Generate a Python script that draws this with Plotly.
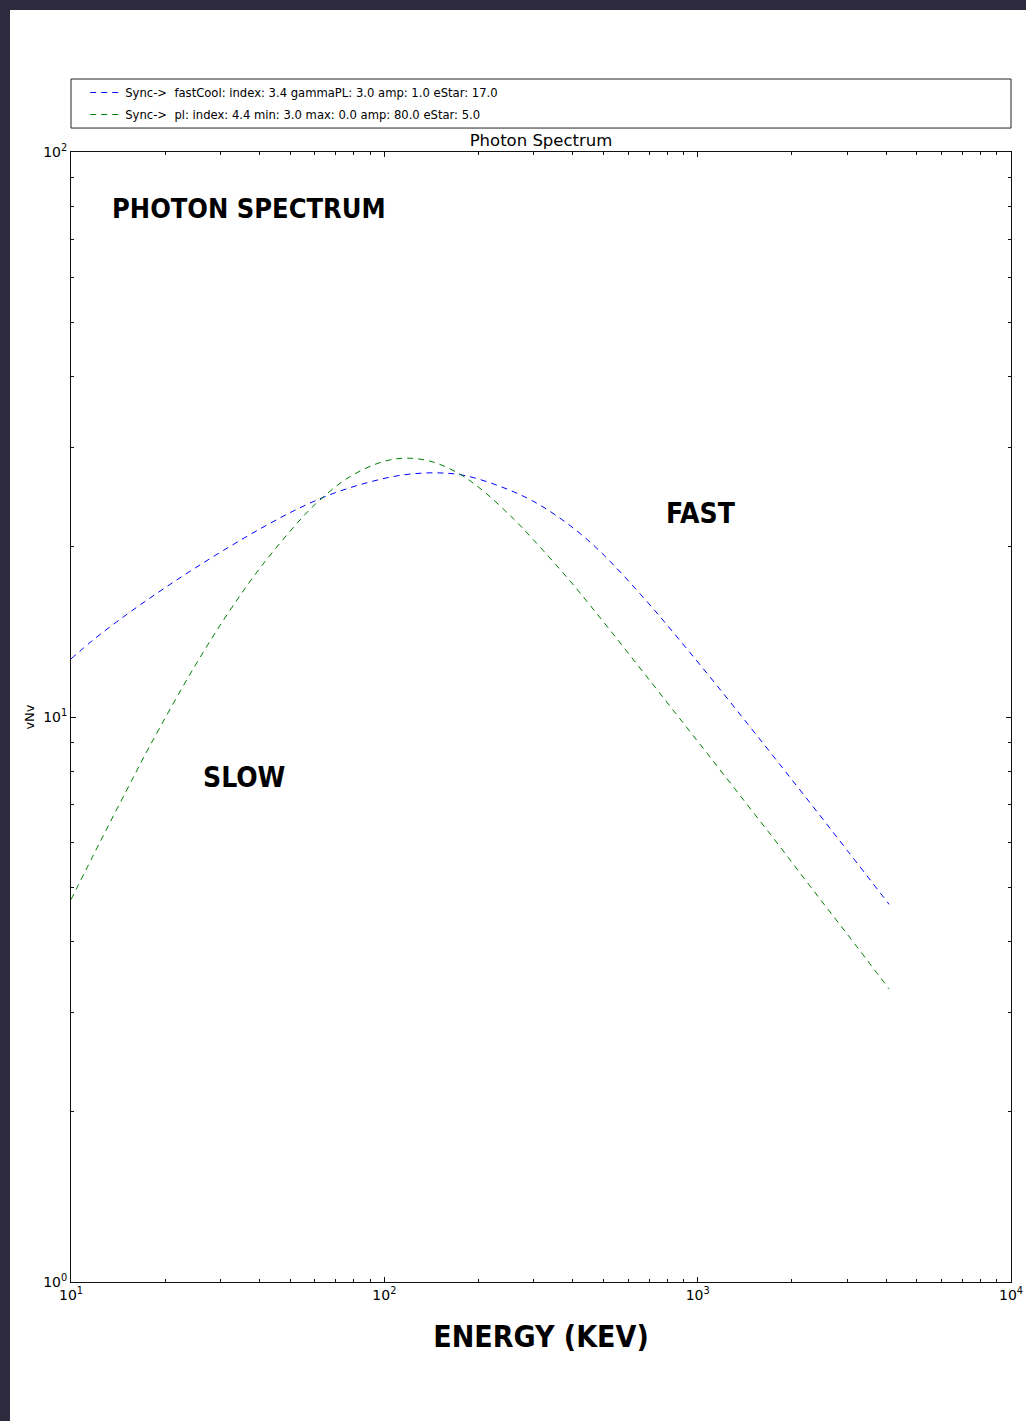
import plotly.graph_objects as go

# values: photon energy (keV) and vNv
fast_energy = [10.0, 11.75, 15.09, 19.24, 24.51, 32.17, 42.23, 53.8, 68.6, 88.1, 112.2,
               143.0, 178.3, 234.0, 298.3, 383.0, 488.2, 689.4, 878.8, 1120, 1438,
               1833, 2335, 2999, 4083]
fast_vnv = [12.67, 13.68, 15.20, 16.70, 18.25, 20.04, 21.87, 23.46, 24.86, 25.98, 26.77,
            27.05, 26.79, 25.60, 24.10, 22.02, 19.64, 16.00, 13.65, 11.59, 9.75,
            8.23, 6.94, 5.81, 4.66]

slow_energy = [10.0, 12.38, 15.09, 17.87, 24.51, 31.47, 40.11, 53.8, 62.3, 77.7, 99.05,
               118.1, 143.0, 174.4, 206.5, 257.5, 298.3, 383.0, 430.8, 537.0, 689.4,
               878.8, 1120, 1438, 1833, 2335, 2999, 4083]
slow_vnv = [4.75, 6.01, 7.44, 8.90, 12.15, 15.17, 18.35, 22.32, 24.22, 26.64, 28.31,
            28.72, 28.27, 26.90, 25.14, 22.47, 20.62, 17.66, 16.33, 14.03, 11.77,
            9.92, 8.36, 7.00, 5.89, 4.94, 4.13, 3.30]

fast_label = "Sync->\u00a0\u00a0fastCool: index: 3.4 gammaPL: 3.0 amp: 1.0 eStar: 17.0"
slow_label = "Sync->\u00a0\u00a0pl: index: 4.4 min: 3.0 max: 0.0 amp: 80.0 eStar: 5.0"

x_ticks = [10, 100, 1000, 10000]
x_ticktext = ["10<sup>1</sup>", "10<sup>2</sup>", "10<sup>3</sup>", "10<sup>4</sup>"]
y_ticks = [1, 10, 100]
y_ticktext = ["10<sup>0</sup>", "10<sup>1</sup>", "10<sup>2</sup>"]

# minor ticks 2..9 in each decade
x_minor = [m * 10 ** d for d in range(1, 4) for m in range(2, 10)]
y_minor = [m * 10 ** d for d in range(0, 2) for m in range(2, 10)]

BG = "#2c2a3c"
BIG_FONT = "Liberation Sans Narrow, DejaVu Sans Condensed, Roboto, sans-serif"

fig = go.Figure()
fig.add_trace(go.Scatter(
    x=fast_energy, y=fast_vnv, mode="lines", name=fast_label, legendgroup="fast",
    line=dict(color="#0000ff", width=1, dash="6px,5px", shape="spline", smoothing=1.0),
))
fig.add_trace(go.Scatter(
    x=slow_energy, y=slow_vnv, mode="lines", name=slow_label, legendgroup="slow",
    line=dict(color="#008000", width=1, dash="6px,5px", shape="spline", smoothing=1.0),
))

axis_common = dict(
    showline=True, linecolor="#111", linewidth=1, mirror="ticks",
    ticks="inside", ticklen=5, tickcolor="#111", showgrid=False, zeroline=False,
    tickfont=dict(family="DejaVu Sans", size=14, color="#000"),
    automargin=False,
)

fig.update_xaxes(
    type="log", range=[1, 4], tickmode="array", tickvals=x_ticks, ticktext=x_ticktext,
    minor=dict(ticks="inside", ticklen=3, tickcolor="#111", tickmode="array", tickvals=x_minor),
    title=dict(text="ENERGY (KEV)", standoff=24,
               font=dict(family=BIG_FONT, size=30, color="#000", weight="bold")),
    **axis_common,
)
fig.update_yaxes(
    type="log", range=[0, 2], tickmode="array", tickvals=y_ticks, ticktext=y_ticktext,
    minor=dict(ticks="inside", ticklen=3, tickcolor="#111", tickmode="array", tickvals=y_minor),
    title=dict(text="vNv", standoff=5, font=dict(family="DejaVu Sans", size=13, color="#000")),
    **axis_common,
)

# white page on the dark background
fig.add_shape(type="rect", xref="paper", yref="paper", x0=-0.0649, x1=1.1, y0=-0.2, y1=1.1257,
              fillcolor="white", line_width=0, layer="below")
# legend frame
fig.add_shape(type="rect", xref="paper", yref="paper", x0=0, x1=1, y0=1.0212, y1=1.0646,
              line=dict(color="#222", width=1), fillcolor="rgba(0,0,0,0)")

for text, x, y, anchor, size in [("PHOTON SPECTRUM", 0.0415, 0.9496, "left", 27),
                                 ("FAST", 0.670, 0.6805, "center", 28),
                                 ("SLOW", 0.185, 0.4469, "center", 28)]:
    fig.add_annotation(text=text, xref="paper", yref="paper", x=x, y=y,
                       xanchor=anchor, yanchor="middle", showarrow=False,
                       font=dict(family=BIG_FONT, size=size, color="#000", weight="bold"))

fig.update_layout(
    width=1026, height=1421,
    paper_bgcolor=BG, plot_bgcolor="white",
    margin=dict(l=71, r=15, t=152, b=139, autoexpand=False),
    title=dict(text="Photon Spectrum", x=0.5, xref="paper", xanchor="center",
               y=1 - 140 / 1421, yanchor="middle",
               font=dict(family="DejaVu Sans", size=16.5, color="#000")),
    legend=dict(x=0.0151, y=1.0655, xanchor="left", yanchor="top", bgcolor="rgba(0,0,0,0)",
                borderwidth=0, font=dict(family="DejaVu Sans", size=11.6, color="#000"),
                itemwidth=30, tracegroupgap=3),
    showlegend=True,
)

fig.write_html("out.html", config={"displayModeBar": False},
               post_script="document.body.style.margin='0';")
